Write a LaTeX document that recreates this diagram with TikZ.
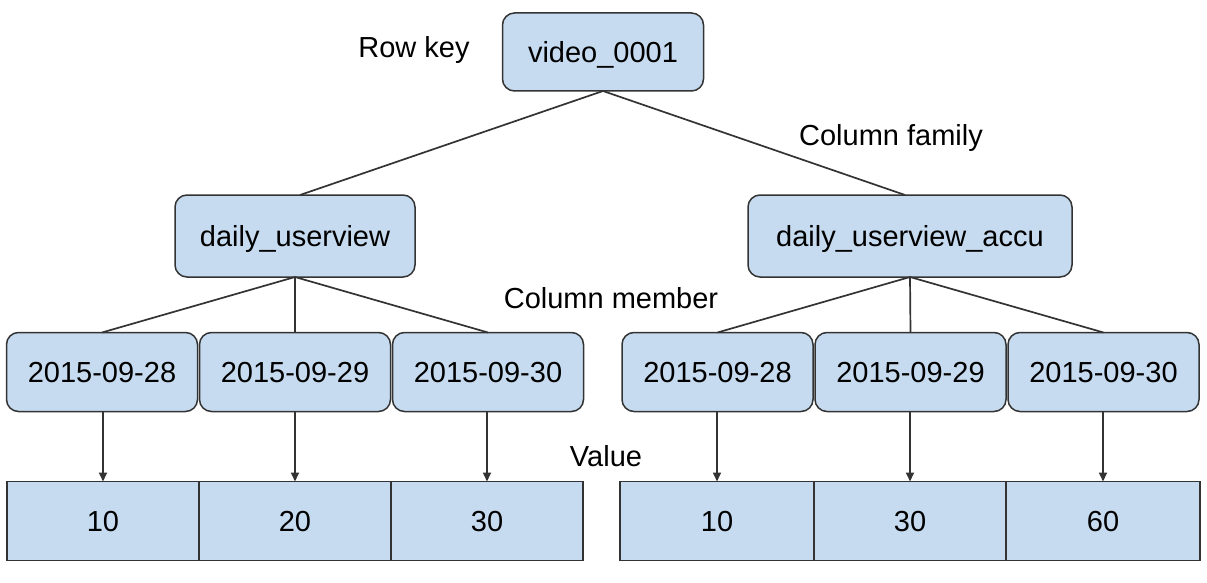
\documentclass[tikz,border=0pt]{standalone}
\usepackage{fontspec}
\setmainfont{Liberation Sans}
\usetikzlibrary{arrows.meta}
\definecolor{boxfill}{RGB}{198,219,240}
\definecolor{edge}{RGB}{51,51,51}
\begin{document}
\begin{tikzpicture}[x=1pt,y=-1pt,
  every node/.style={font=\fontsize{29}{34}\selectfont, text=black, inner sep=0pt, outer sep=0pt},
  boxtext/.style={text height=21pt, text depth=0pt},
  rbox/.style={boxtext, draw=edge, fill=boxfill, line width=1.5pt, rounded corners=12pt},
  vbox/.style={boxtext, draw=edge, fill=boxfill, line width=1.5pt, minimum height=79pt},
  datebox/.style={rbox, minimum width=191pt, minimum height=79pt},
  link/.style={draw=edge, line width=1.7pt},
  arr/.style={link, -{Triangle[length=9pt,width=8pt]}},
  lbl/.style={anchor=base}]
\useasboundingbox (0,0) rectangle (1207,583);

% row key
\node[rbox, minimum width=201pt, minimum height=78pt] (root) at (603,52) {video\_0001};

% column families
\node[rbox, minimum width=240pt, minimum height=82pt] (cf1) at (295,236) {daily\_userview};
\node[rbox, minimum width=324pt, minimum height=82pt] (cf2) at (910,236) {daily\_userview\_accu};

% column members
\node[datebox] (d1) at (102,372) {2015-09-28};
\node[datebox] (d2) at (295,372) {2015-09-29};
\node[datebox] (d3) at (488,372) {2015-09-30};
\node[datebox] (d4) at (717.5,372) {2015-09-28};
\node[datebox] (d5) at (910.5,372) {2015-09-29};
\node[datebox] (d6) at (1103.5,372) {2015-09-30};

% values
\node[vbox, minimum width=192pt] (v1) at (103,521) {10};
\node[vbox, minimum width=192pt] (v2) at (295,521) {20};
\node[vbox, minimum width=192pt] (v3) at (487,521) {30};
\node[vbox, minimum width=194pt] (v4) at (717,521) {10};
\node[vbox, minimum width=192pt] (v5) at (910,521) {30};
\node[vbox, minimum width=194pt] (v6) at (1103,521) {60};

% labels
\node[lbl] (rk) at (414,58) {Row key};
\node[lbl] (cfam) at (891,146) {Column family};
\node[lbl] (cmem) at (611,308) {Column member};
\node[lbl] (val) at (606,466) {Value};

% connectors
\draw[link] (root.south) -- ([xshift=5pt]cf1.north);
\draw[link] (root.south) -- ([xshift=-5pt]cf2.north);
\foreach \d in {d1,d2,d3} \draw[link] (cf1.south) -- (\d.north);
\foreach \d in {d4,d5,d6} \draw[link] (cf2.south) -- (\d.north);
\foreach \d/\v in {d1/v1,d2/v2,d3/v3,d4/v4,d5/v5,d6/v6}
  \draw[arr] (\d.south -| \v.north) -- (\v.north);
\end{tikzpicture}
\end{document}
